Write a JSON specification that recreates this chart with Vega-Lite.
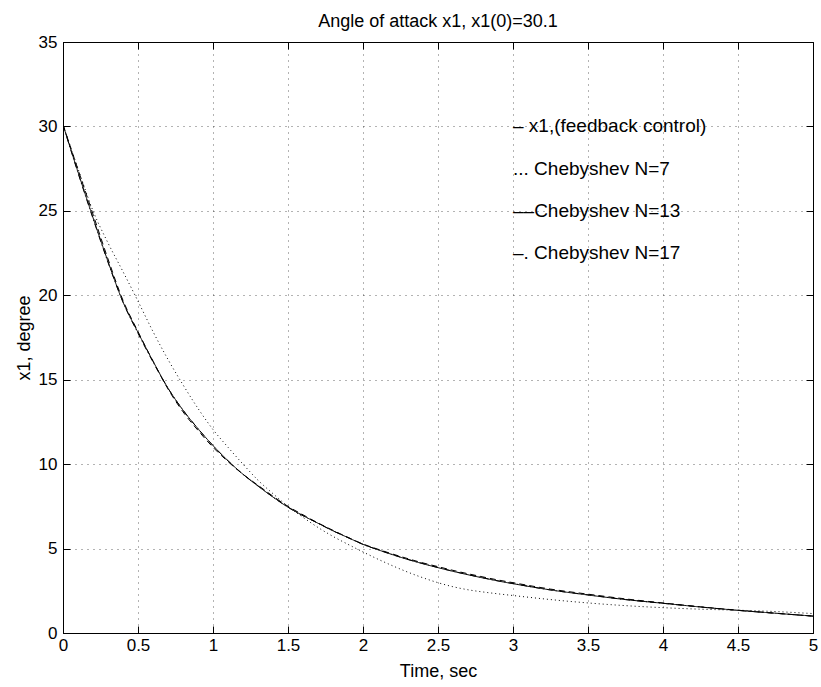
{
  "$schema": "https://vega.github.io/schema/vega-lite/v6.json",
  "width": 750,
  "height": 591,
  "autosize": {"type": "none"},
  "padding": {"left": 63, "top": 42, "right": 8, "bottom": 54},
  "background": "white",
  "title": {"text": "Angle of attack x1, x1(0)=30.1", "fontSize": 18, "font": "Liberation Sans", "fontWeight": "normal", "color": "black", "offset": 2, "anchor": "middle"},
  "config": {
    "view": {"stroke": "black", "strokeWidth": 1},
    "font": "Liberation Sans",
    "axis": {
      "labelFont": "Liberation Sans", "labelFontSize": 17, "labelColor": "black",
      "titleFont": "Liberation Sans", "titleFontSize": 18, "titleFontWeight": "normal", "titleColor": "black",
      "domainColor": "black", "domainWidth": 1, "tickColor": "black", "tickWidth": 1, "tickSize": -7,
      "gridColor": "black", "gridDash": [1, 5], "gridOpacity": 0.6, "gridWidth": 1,
      "format": "~g"
    }
  },
  "datasets": {
    "curves": [
      {"t": 0, "fb": 30.1, "c7": 30.1, "c13": 30.1, "c17": 30.1},
      {"t": 0.1, "fb": 27.3, "c7": 27.5, "c13": 27.45, "c17": 27.25},
      {"t": 0.2, "fb": 24.6, "c7": 25.0, "c13": 24.8, "c17": 24.55},
      {"t": 0.3, "fb": 22.0, "c7": 23.1, "c13": 22.15, "c17": 21.95},
      {"t": 0.4, "fb": 19.6, "c7": 21.4, "c13": 19.7, "c17": 19.6},
      {"t": 0.5, "fb": 17.8, "c7": 19.65, "c13": 17.85, "c17": 17.75},
      {"t": 0.6, "fb": 16.1, "c7": 17.85, "c13": 16.1, "c17": 16.05},
      {"t": 0.7, "fb": 14.5, "c7": 16.2, "c13": 14.45, "c17": 14.5},
      {"t": 0.8, "fb": 13.2, "c7": 14.7, "c13": 13.1, "c17": 13.2},
      {"t": 0.9, "fb": 12.1, "c7": 13.3, "c13": 12.0, "c17": 12.1},
      {"t": 1.0, "fb": 11.1, "c7": 12.05, "c13": 11.0, "c17": 11.1},
      {"t": 1.1, "fb": 10.2, "c7": 11.0, "c13": 10.15, "c17": 10.2},
      {"t": 1.2, "fb": 9.4, "c7": 10.0, "c13": 9.4, "c17": 9.4},
      {"t": 1.3, "fb": 8.7, "c7": 9.05, "c13": 8.75, "c17": 8.72},
      {"t": 1.4, "fb": 8.05, "c7": 8.25, "c13": 8.1, "c17": 8.05},
      {"t": 1.5, "fb": 7.45, "c7": 7.5, "c13": 7.5, "c17": 7.45},
      {"t": 1.6, "fb": 6.95, "c7": 6.85, "c13": 7.0, "c17": 6.95},
      {"t": 1.7, "fb": 6.5, "c7": 6.25, "c13": 6.52, "c17": 6.5},
      {"t": 1.8, "fb": 6.05, "c7": 5.72, "c13": 6.08, "c17": 6.05},
      {"t": 1.9, "fb": 5.65, "c7": 5.25, "c13": 5.66, "c17": 5.65},
      {"t": 2.0, "fb": 5.25, "c7": 4.8, "c13": 5.27, "c17": 5.25},
      {"t": 2.1, "fb": 4.93, "c7": 4.37, "c13": 4.96, "c17": 4.93},
      {"t": 2.2, "fb": 4.63, "c7": 3.97, "c13": 4.67, "c17": 4.63},
      {"t": 2.3, "fb": 4.35, "c7": 3.6, "c13": 4.4, "c17": 4.36},
      {"t": 2.4, "fb": 4.1, "c7": 3.27, "c13": 4.15, "c17": 4.11},
      {"t": 2.5, "fb": 3.87, "c7": 2.98, "c13": 3.93, "c17": 3.88},
      {"t": 2.6, "fb": 3.65, "c7": 2.74, "c13": 3.71, "c17": 3.66},
      {"t": 2.7, "fb": 3.45, "c7": 2.56, "c13": 3.51, "c17": 3.46},
      {"t": 2.8, "fb": 3.26, "c7": 2.43, "c13": 3.32, "c17": 3.27},
      {"t": 2.9, "fb": 3.08, "c7": 2.32, "c13": 3.14, "c17": 3.09},
      {"t": 3.0, "fb": 2.92, "c7": 2.22, "c13": 2.98, "c17": 2.93},
      {"t": 3.25, "fb": 2.55, "c7": 1.98, "c13": 2.6, "c17": 2.55},
      {"t": 3.5, "fb": 2.25, "c7": 1.78, "c13": 2.3, "c17": 2.26},
      {"t": 3.75, "fb": 1.98, "c7": 1.62, "c13": 2.02, "c17": 1.98},
      {"t": 4.0, "fb": 1.76, "c7": 1.5, "c13": 1.78, "c17": 1.76},
      {"t": 4.25, "fb": 1.54, "c7": 1.41, "c13": 1.55, "c17": 1.54},
      {"t": 4.5, "fb": 1.34, "c7": 1.35, "c13": 1.35, "c17": 1.34},
      {"t": 4.75, "fb": 1.17, "c7": 1.27, "c13": 1.17, "c17": 1.17},
      {"t": 5.0, "fb": 1.0, "c7": 1.15, "c13": 1.0, "c17": 1.0}
    ],
    "labels": [
      {"x": 3, "y": 30, "label": "– x1,(feedback control)"},
      {"x": 3, "y": 27.5, "label": "... Chebyshev N=7"},
      {"x": 3, "y": 25, "label": "––Chebyshev N=13"},
      {"x": 3, "y": 22.5, "label": "–. Chebyshev N=17"}
    ]
  },
  "layer": [
    {
      "data": {"name": "curves"},
      "transform": [{"fold": ["fb", "c7", "c13", "c17"], "as": ["series", "v"]}],
      "mark": {"type": "line", "color": "black", "strokeWidth": 1, "interpolate": "monotone", "clip": true},
      "encoding": {
        "x": {"field": "t", "type": "quantitative", "scale": {"domain": [0, 5], "nice": false},
              "axis": {"values": [0, 0.5, 1, 1.5, 2, 2.5, 3, 3.5, 4, 4.5, 5], "title": "Time, sec", "titlePadding": 9, "labelPadding": 11, "grid": true, "labelFlush": false}},
        "y": {"field": "v", "type": "quantitative", "scale": {"domain": [0, 35], "nice": false},
              "axis": {"values": [0, 5, 10, 15, 20, 25, 30, 35], "title": "x1, degree", "titlePadding": 5, "labelPadding": 13, "grid": true}},
        "strokeDash": {"field": "series", "type": "nominal",
                       "scale": {"domain": ["fb", "c7", "c13", "c17"], "range": [[1, 0], [1, 3], [6, 4], [6, 3, 1, 3]]},
                       "legend": null},
        "detail": {"field": "series"}
      }
    },
    {
      "data": {"name": "labels"},
      "mark": {"type": "text", "align": "left", "baseline": "middle", "fontSize": 19, "font": "Liberation Sans", "color": "black"},
      "encoding": {
        "x": {"field": "x", "type": "quantitative", "axis": {"orient": "top", "labels": false, "title": null, "grid": false, "domain": false, "values": [0, 0.5, 1, 1.5, 2, 2.5, 3, 3.5, 4, 4.5, 5]}},
        "y": {"field": "y", "type": "quantitative", "axis": {"orient": "right", "labels": false, "title": null, "grid": false, "domain": false, "values": [0, 5, 10, 15, 20, 25, 30, 35]}},
        "text": {"field": "label"}
      }
    }
  ],
  "resolve": {"axis": {"x": "independent", "y": "independent"}}
}
